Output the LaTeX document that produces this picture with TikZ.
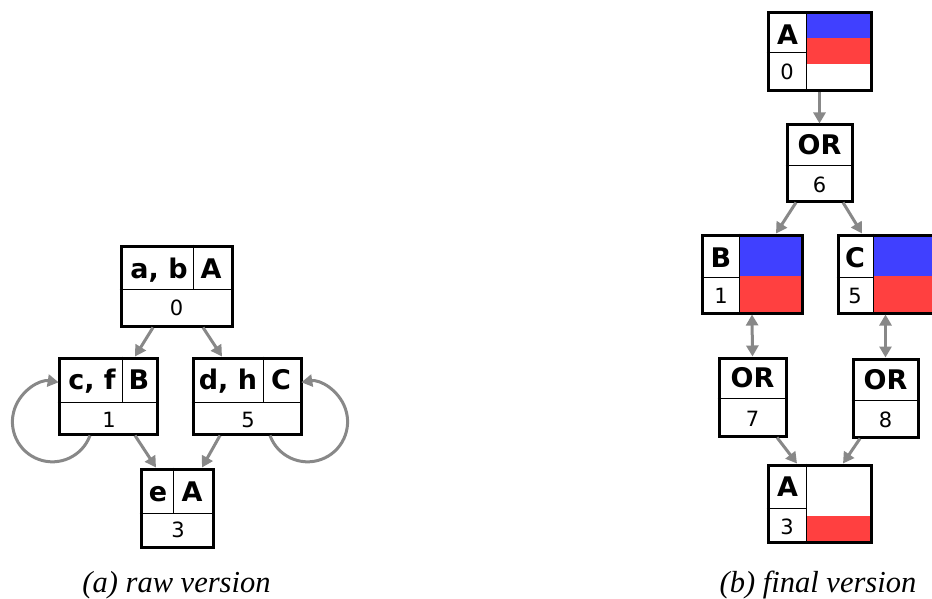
\documentclass[tikz,border=0pt]{standalone}
\usepackage{fontspec}
\setmainfont{Liberation Serif}
\newfontfamily\boxfont{DejaVu Sans}
\usetikzlibrary{arrows.meta,calc}
\definecolor{edgegray}{RGB}{136,136,136}
\definecolor{fillblue}{RGB}{64,64,255}
\definecolor{fillred}{RGB}{255,64,64}
\pgfdeclarelayer{background}
\pgfsetlayers{background,main}
\begin{document}
\begin{tikzpicture}[x=1pt,y=-1pt,
  cellbox/.style={draw=black, line width=3pt, inner sep=0pt},
  divline/.style={draw=black, line width=1pt},
  lbl/.style={font=\boxfont\bfseries\fontsize{27}{27}\selectfont, text height=20pt, text depth=0pt, inner sep=0pt},
  num/.style={font=\boxfont\fontsize{21}{21}\selectfont, text height=15.5pt, text depth=0pt, inner sep=0pt},
  conn/.style={draw=edgegray, line width=3pt, -{Triangle[length=11pt,width=12pt]}},
  dconn/.style={draw=edgegray, line width=3pt, {Triangle[length=11pt,width=12pt]}-{Triangle[length=11pt,width=12pt]}},
  captext/.style={font=\itshape\fontsize{30.5}{30.5}\selectfont, inner sep=0pt}]
\useasboundingbox (0,0) rectangle (932,599);
\begin{scope}
\clip (0,0) rectangle (932,599);
% ---------- (a) raw version ----------
\node[cellbox, minimum width=111pt, minimum height=80pt] (ab) at (176.5,286) {};
\node[cellbox, minimum width=98pt, minimum height=76pt] (cf) at (108,396) {};
\node[cellbox, minimum width=108pt, minimum height=76pt] (dh) at (247,396) {};
\node[cellbox, minimum width=72pt, minimum height=78pt] (e) at (177,508) {};
\draw[divline] (ab.west |- 0,289) -- (ab.east |- 0,289);
\draw[divline] (193,0 |- ab.north) -- (193,289);
\draw[divline] (cf.west |- 0,402) -- (cf.east |- 0,402);
\draw[divline] (122,0 |- cf.north) -- (122,402);
\draw[divline] (dh.west |- 0,402) -- (dh.east |- 0,402);
\draw[divline] (263,0 |- dh.north) -- (263,402);
\draw[divline] (e.west |- 0,513) -- (e.east |- 0,513);
\draw[divline] (173,0 |- e.north) -- (173,513);
\node[lbl] (abL) at (159,268) {a, b};
\node[lbl] (abR) at (211,268) {A};
\node[num] (abN) at (176.5,307.5) {0};
\node[lbl] (cfL) at (92,379) {c, f};
\node[lbl] (cfR) at (139,379) {B};
\node[num] (cfN) at (109,420) {1};
\node[lbl] (dhL) at (228,379) {d, h};
\node[lbl] (dhR) at (281,379) {C};
\node[num] (dhN) at (248,420) {5};
\node[lbl] (eL) at (158,491) {e};
\node[lbl] (eR) at (192,491) {A};
\node[num] (eN) at (178,530) {3};
\draw[conn] ([xshift=-23.5pt]ab.south) -- ([xshift=27pt]cf.north);
\draw[conn] ([xshift=26.5pt]ab.south) -- ([xshift=-25pt]dh.north);
\draw[conn] ([xshift=27pt]cf.south) -- ([xshift=-21pt]e.north);
\draw[conn] ([xshift=-27pt]dh.south) -- ([xshift=25pt]e.north);
\draw[conn] ([xshift=-18pt]cf.south) arc[start angle=20, end angle=279, radius=40];
\draw[conn] ([xshift=23pt]dh.south) arc[start angle=160, end angle=-99, radius=40];
% ---------- (b) final version ----------
\node[cellbox, minimum width=103pt, minimum height=78pt] (A0) at (819.5,52) {};
\node[cellbox, minimum width=65pt, minimum height=76pt] (OR6) at (819.5,163) {};
\node[cellbox, minimum width=100pt, minimum height=78pt] (B) at (752,274) {};
\node[cellbox, minimum width=100pt, minimum height=78pt] (C) at (888,274) {};
\node[cellbox, minimum width=67pt, minimum height=78pt] (OR7) at (752.5,397) {};
\node[cellbox, minimum width=65pt, minimum height=78pt] (OR8) at (885.5,398) {};
\node[cellbox, minimum width=103pt, minimum height=77pt] (A3) at (819.5,503.5) {};
\begin{pgfonlayer}{background}
\fill[fillblue] (806,13) rectangle (871,38);
\fill[fillred] (806,38) rectangle (871,64);
\fill[fillblue] (739,235) rectangle (802,276);
\fill[fillred] (739,276) rectangle (802,313);
\fill[fillblue] (873,235) rectangle (938,276);
\fill[fillred] (873,276) rectangle (938,313);
\fill[fillred] (806,516) rectangle (871,542);
\end{pgfonlayer}
\draw[divline] (806,0 |- A0.north) -- (806,0 |- A0.south);
\draw[divline] (A0.west |- 0,53) -- (806,53);
\draw[divline] (OR6.west |- 0,166) -- (OR6.east |- 0,166);
\draw[divline] (739,0 |- B.north) -- (739,0 |- B.south);
\draw[divline] (B.west |- 0,277) -- (739,277);
\draw[divline] (873,0 |- C.north) -- (873,0 |- C.south);
\draw[divline] (C.west |- 0,277) -- (873,277);
\draw[divline] (OR7.west |- 0,398) -- (OR7.east |- 0,398);
\draw[divline] (OR8.west |- 0,400) -- (OR8.east |- 0,400);
\draw[divline] (806,0 |- A3.north) -- (806,0 |- A3.south);
\draw[divline] (A3.west |- 0,508) -- (806,508);
\node[lbl] (A0L) at (787.5,35) {A};
\node[num] (A0N) at (787,72) {0};
\node[lbl] (OR6L) at (819.5,145) {OR};
\node[num] (OR6N) at (819.5,185) {6};
\node[lbl] (BL) at (721,257) {B};
\node[num] (BN) at (721,296) {1};
\node[lbl] (CL) at (855,257) {C};
\node[num] (CN) at (855,296) {5};
\node[lbl] (OR7L) at (752.5,377.5) {OR};
\node[num] (OR7N) at (752.5,418.5) {7};
\node[lbl] (OR8L) at (885.5,379) {OR};
\node[num] (OR8N) at (885.5,420) {8};
\node[lbl] (A3L) at (787.5,486) {A};
\node[num] (A3N) at (787,526.5) {3};
\draw[conn] (A0.south) -- (OR6.north);
\draw[conn] ([xshift=-23.5pt]OR6.south) -- ([xshift=24pt]B.north);
\draw[conn] ([xshift=23.5pt]OR6.south) -- ([xshift=-26pt]C.north);
\draw[dconn] (B.south) -- (OR7.north);
\draw[dconn] (C.south -| OR8.north) -- (OR8.north);
\draw[conn] ([xshift=24.5pt]OR7.south) -- ([xshift=-22.5pt]A3.north);
\draw[conn] ([xshift=-25.5pt]OR8.south) -- ([xshift=23.5pt]A3.north);
\end{scope}
% ---------- captions ----------
\node[captext] (capa) at (176.5,585) {(a) raw version};
\node[captext] (capb) at (818,585) {(b) final version};
\end{tikzpicture}
\end{document}
